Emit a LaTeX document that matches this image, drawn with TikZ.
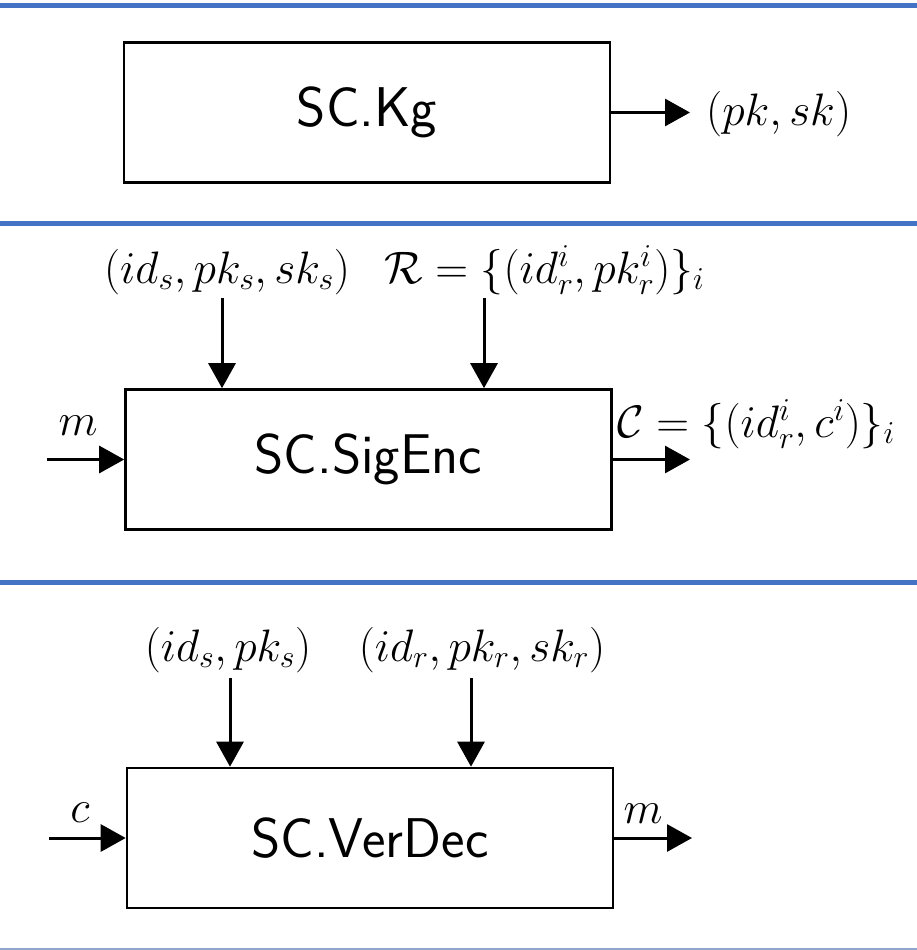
\RequirePackage{fix-cm}
\documentclass[tikz,border=0pt]{standalone}
\usetikzlibrary{arrows.meta}
\definecolor{sepblue}{HTML}{4472C4}
\definecolor{sepgray}{HTML}{8FA6CC}
\begin{document}
\begin{tikzpicture}[x=1pt,y=-1pt,
  blockbox/.style={draw,line width=2.6pt,minimum width=486pt,minimum height=140pt,inner sep=0pt,
    font=\fontsize{56}{62}\selectfont\sffamily},
  arr/.style={line width=3pt,-{Triangle[length=25pt,width=27pt]}},
  lbl/.style={inner sep=0pt,anchor=base,font=\fontsize{45.5}{52}\selectfont},
  sep/.style={sepblue,line width=5pt}]
\useasboundingbox (0,0) rectangle (917,950);
% separators
\draw[sep] (0,5.5) -- (917,5.5);
\draw[sep] (0,223.5) -- (917,223.5);
\draw[sep] (0,582.5) -- (917,582.5);
\draw[sepgray,line width=1.5pt] (0,949) -- (917,949);
% --- SC.Kg
\node[blockbox] (kg) at (367,112.5) {SC.Kg};
\coordinate (kgout) at (690,112.5);
\draw[arr] (kg.east) -- (kgout);
\node[lbl,anchor=base west] (kgl) at (706,125) {$(pk,sk)$};
% --- SC.SigEnc
\node[blockbox] (se) at (368.5,459.5) {SC.SigEnc};
\coordinate (sein) at (47,459.5);
\coordinate (seout) at (690,459.5);
\coordinate (seA) at (222,298);
\coordinate (seB) at (484,298);
\draw[arr] (sein) -- (se.west);
\draw[arr] (se.east) -- (seout);
\draw[arr] (seA) -- (seA |- se.north);
\draw[arr] (seB) -- (seB |- se.north);
\node[lbl] (sem) at (78,435) {$m$};
\node[lbl] (seAl) at (227,283) {$(id_s,pk_s,sk_s)$};
\node[lbl,anchor=base west] (seBl) at (384,283) {$\mathcal{R}=\{(id_r^i,pk_r^i)\}_i$};
\node[lbl,anchor=base west] (seCl) at (617,437) {$\mathcal{C}=\{(id_r^i,c^i)\}_i$};
% --- SC.VerDec
\node[blockbox] (vd) at (370,838) {SC.VerDec};
\coordinate (vdin) at (49,838);
\coordinate (vdout) at (692,838);
\coordinate (vdA) at (230,678);
\coordinate (vdB) at (471,678);
\draw[arr] (vdin) -- (vd.west);
\draw[arr] (vd.east) -- (vdout);
\draw[arr] (vdA) -- (vdA |- vd.north);
\draw[arr] (vdB) -- (vdB |- vd.north);
\node[lbl] (vdc) at (80,822) {$c$};
\node[lbl] (vdm) at (643,823) {$m$};
\node[lbl] (vdAl) at (228,661) {$(id_s,pk_s)$};
\node[lbl] (vdBl) at (482,661) {$(id_r,pk_r,sk_r)$};
\end{tikzpicture}
\end{document}
